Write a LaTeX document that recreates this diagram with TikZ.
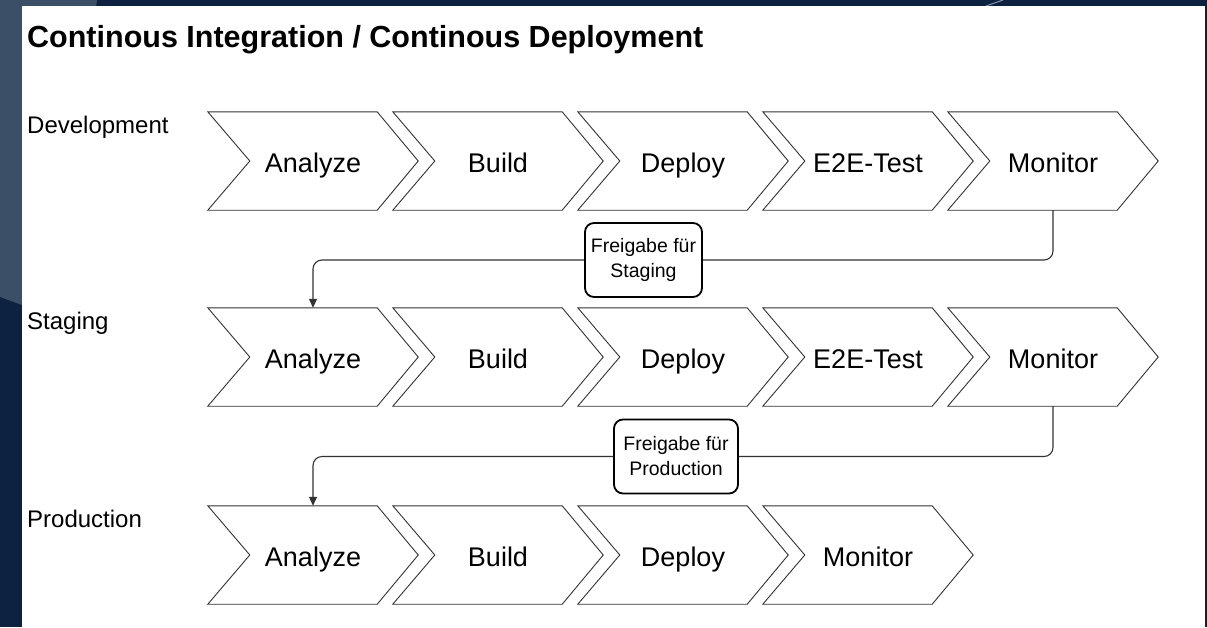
\documentclass[tikz,border=0pt]{standalone}
\usepackage{fontspec}
\setmainfont{Liberation Sans}
\usetikzlibrary{positioning,calc,arrows.meta}
\usepackage{xcolor}

\definecolor{navy}{HTML}{0D2240}
\definecolor{slate}{HTML}{3B4F67}
\definecolor{edge}{HTML}{333333}

\tikzset{
  stage/.style={minimum width=210pt, minimum height=98pt, inner sep=0pt,
    text height=22pt, text depth=0pt, font=\fontsize{27}{32}\selectfont},
  chevronline/.style={draw=edge, line width=0.9pt, line join=miter},
  envlabel/.style={anchor=base west, inner sep=0pt, font=\fontsize{24}{28}\selectfont},
  gate/.style={draw=black, line width=1.8pt, rounded corners=9pt, fill=white,
    align=center, minimum height=74pt, inner sep=2pt,
    font=\fontsize{19.5}{25}\selectfont},
  flow/.style={draw=edge, line width=1.1pt, rounded corners=9pt},
}

% outline of one pipeline stage, drawn round its node
\newcommand{\drawchevron}[1]{%
  \draw[chevronline] (#1.north west) -- ($(#1.north east)+(-41,0)$) -- (#1.east)
    -- ($(#1.south east)+(-41,0)$) -- (#1.south west) -- ($(#1.west)+(42,0)$) -- cycle;}

\begin{document}
\begin{tikzpicture}[x=1pt,y=-1pt]
  \useasboundingbox (0,0) rectangle (1207,627);
  % backdrop and sheet
  \fill[navy] (0,0) rectangle (1207,627);
  \fill[slate] (0,0) -- (97,0) -- (60,280) -- (22,305) -- (0,297) -- cycle;
  \draw[slate!60!white, line width=1pt] (986,6) -- (1003,0);
  \fill[white] (22,6) rectangle (1205,627);

  \node[anchor=base west, inner sep=0pt, font=\bfseries\fontsize{30.5}{36}\selectfont]
    (title) at (27,47) {Continous Integration / Continous Deployment};

  % environments
  \foreach \y/\r/\env in {112/1/Development,308/2/Staging,506/3/Production} {
    \node[envlabel] (env\r) at (27,\y+21) {\env};
  }

  % pipeline stages
  \foreach \r/\y in {1/112,2/308} {
    \foreach \k/\tag/\txt in {0/ana/Analyze,1/bld/Build,2/dep/Deploy,3/e2e/E2E-Test,4/mon/Monitor} {
      \node[stage] (\tag\r) at (313+185*\k,\y+49) {\txt};
      \drawchevron{\tag\r}
    }
  }
  \foreach \k/\tag/\txt in {0/ana/Analyze,1/bld/Build,2/dep/Deploy,3/mon/Monitor} {
    \node[stage] (\tag3) at (313+185*\k,555) {\txt};
    \drawchevron{\tag3}
  }

  % releases between environments
  \node[gate, minimum width=117pt] (gate1) at (643.5,260) {Freigabe für\\Staging};
  \node[gate, minimum width=124pt] (gate2) at (676,456.5) {Freigabe für\\Production};

  \draw[flow] (mon1.south) |- (gate1.east);
  \draw[flow, -{Triangle[length=9pt,width=8pt]}] (gate1.west) -| (ana2.north);
  \draw[flow] (mon2.south) |- (gate2.east);
  \draw[flow, -{Triangle[length=9pt,width=8pt]}] (gate2.west) -| (ana3.north);
\end{tikzpicture}
\end{document}
